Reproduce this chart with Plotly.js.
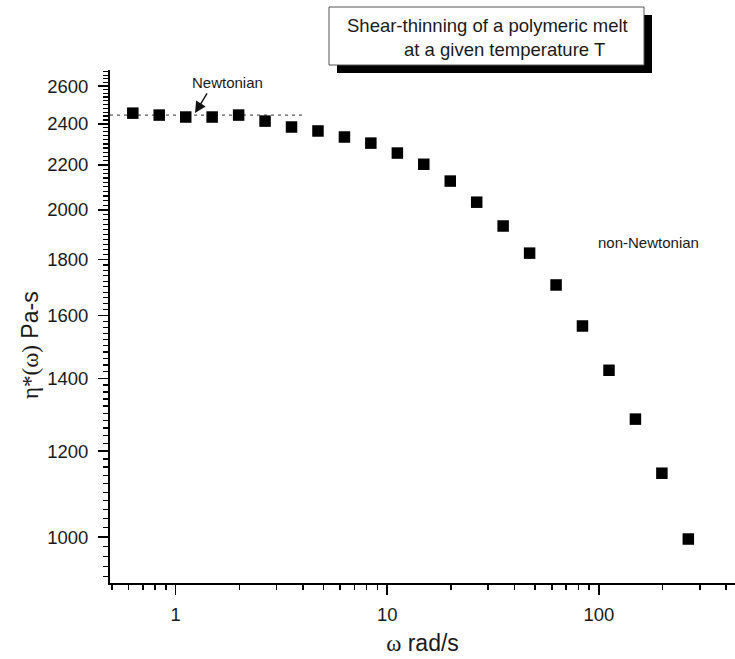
<!DOCTYPE html>
<html>
<head>
<meta charset="utf-8">
<script src="https://cdn.plot.ly/plotly-3.0.1.min.js"></script>
<style>html,body{margin:0;padding:0;background:#fff;}#chart{width:735px;height:659px;}</style>
</head>
<body>
<div id="chart"></div>
<script>
// Angular frequency omega (rad/s)
const omega = [0.628, 0.837, 1.117, 1.489, 1.986, 2.648, 3.531, 4.709, 6.28, 8.37, 11.17, 14.89, 19.86, 26.48, 35.31, 47.09, 62.8, 83.7, 111.7, 148.9, 198.6, 264.8];
// Complex viscosity eta* (Pa-s)
const eta = [2455, 2445, 2435, 2435, 2445, 2414, 2384, 2364, 2334, 2304, 2256, 2203, 2126, 2033, 1933, 1825, 1706, 1564, 1424, 1284, 1145, 996];
// Newtonian plateau guide line
const plateauX = [0.49, 4.1];
const plateauY = [2445, 2445];
// Tick values and labels
const xTickVals = [1, 10, 100];
const xTickText = ["1", "10", "100"];
const xMinorVals = [0.5, 0.6, 0.7, 0.8, 0.9, 2, 3, 4, 5, 6, 7, 8, 9, 20, 30, 40, 50, 60, 70, 80, 90, 200, 300, 400];
const yTickVals = [1000, 1200, 1400, 1600, 1800, 2000, 2200, 2400, 2600];
const yTickText = ["1000", "1200", "1400", "1600", "1800", "2000", "2200", "2400", "2600"];
const yMinorVals = [];
for (let v = 920; v <= 2680; v += 20) { if (v % 200 !== 0) yMinorVals.push(v); }

const SANS = "Arial, 'Liberation Sans', sans-serif";

const traces = [
  {
    x: plateauX, y: plateauY, mode: 'lines', type: 'scatter',
    line: {color: '#333333', width: 1, dash: '3px,4px'},
    hoverinfo: 'skip', showlegend: false
  },
  {
    x: omega, y: eta, mode: 'markers', type: 'scatter',
    marker: {symbol: 'square', size: 11.5, color: '#000000'},
    showlegend: false
  }
];

const layout = {
  width: 735, height: 659,
  margin: {l: 110, r: 0, t: 70, b: 76},
  paper_bgcolor: '#ffffff', plot_bgcolor: '#ffffff',
  font: {family: SANS, color: '#1a1a1a'},
  xaxis: {
    type: 'log',
    range: [Math.log10(0.49), Math.log10(440)],
    tickmode: 'array', tickvals: xTickVals, ticktext: xTickText,
    ticks: 'outside', ticklen: 10, tickwidth: 1.5, tickcolor: '#000',
    minor: {tickmode: 'array', tickvals: xMinorVals, ticks: 'outside', ticklen: 5, tickwidth: 1.5, tickcolor: '#000', showgrid: false},
    showline: true, linecolor: '#000', linewidth: 2,
    showgrid: false, zeroline: false,
    tickfont: {size: 18.5, family: SANS, color: '#1a1a1a'},
    ticklabelstandoff: 4,
    title: {text: '<span style="font-family:Liberation Serif">ω</span> rad/s', font: {size: 23, family: SANS, color: '#1a1a1a'}, standoff: 11}
  },
  yaxis: {
    type: 'log',
    range: [Math.log10(907.4), Math.log10(2690)],
    tickmode: 'array', tickvals: yTickVals, ticktext: yTickText,
    ticks: 'outside', ticklen: 10, tickwidth: 1.5, tickcolor: '#000',
    minor: {tickmode: 'array', tickvals: yMinorVals, ticks: 'outside', ticklen: 5, tickwidth: 1.2, tickcolor: '#000', showgrid: false},
    showline: true, linecolor: '#000', linewidth: 2,
    showgrid: false, zeroline: false,
    tickfont: {size: 18.5, family: SANS, color: '#1a1a1a'},
    ticklabelstandoff: 6
  },
  shapes: [
    {type: 'rect', xref: 'paper', yref: 'paper', x0: 0.3632, x1: 0.8672, y0: 0.9942, y1: 1.1072,
     fillcolor: '#000000', line: {width: 0}, layer: 'above'},
    {type: 'rect', xref: 'paper', yref: 'paper', x0: 0.3504, x1: 0.8544, y0: 1.0097, y1: 1.1228,
     fillcolor: '#ffffff', line: {width: 1, color: '#555555'}, layer: 'above'}
  ],
  annotations: [
    {xref: 'paper', yref: 'paper', x: 0.6032, y: 1.0858, text: 'Shear-thinning of a polymeric melt',
     showarrow: false, xanchor: 'center', yanchor: 'middle', font: {size: 18.5, family: SANS, color: '#1a1a1a'}},
    {xref: 'paper', yref: 'paper', x: 0.6304, y: 1.0409, text: 'at a given temperature T',
     showarrow: false, xanchor: 'center', yanchor: 'middle', font: {size: 18.5, family: SANS, color: '#1a1a1a'}},
    {xref: 'paper', yref: 'paper', x: 0.1872, y: 0.9766, text: 'Newtonian',
     showarrow: false, xanchor: 'center', yanchor: 'middle', font: {size: 15, family: SANS, color: '#1a1a1a'}},
    {xref: 'paper', yref: 'paper', x: 0.136, y: 0.9162, text: '', showarrow: true,
     ax: 13, ay: -21, arrowhead: 2, arrowsize: 1.6, arrowwidth: 1.4, arrowcolor: '#111', standoff: 0},
    {xref: 'paper', yref: 'paper', x: 0.8608, y: 0.6628, text: 'non-Newtonian',
     showarrow: false, xanchor: 'center', yanchor: 'middle', font: {size: 15, family: SANS, color: '#1a1a1a'}},
    {xref: 'paper', yref: 'paper', x: -0.128, y: 0.4639, textangle: -90,
     text: '<span style="font-family:Liberation Serif">η*(ω)</span> Pa-s',
     showarrow: false, xanchor: 'center', yanchor: 'middle', font: {size: 23, family: SANS, color: '#1a1a1a'}}
  ]
};

Plotly.newPlot('chart', traces, layout, {displayModeBar: false, staticPlot: true});
</script>
</body>
</html>
